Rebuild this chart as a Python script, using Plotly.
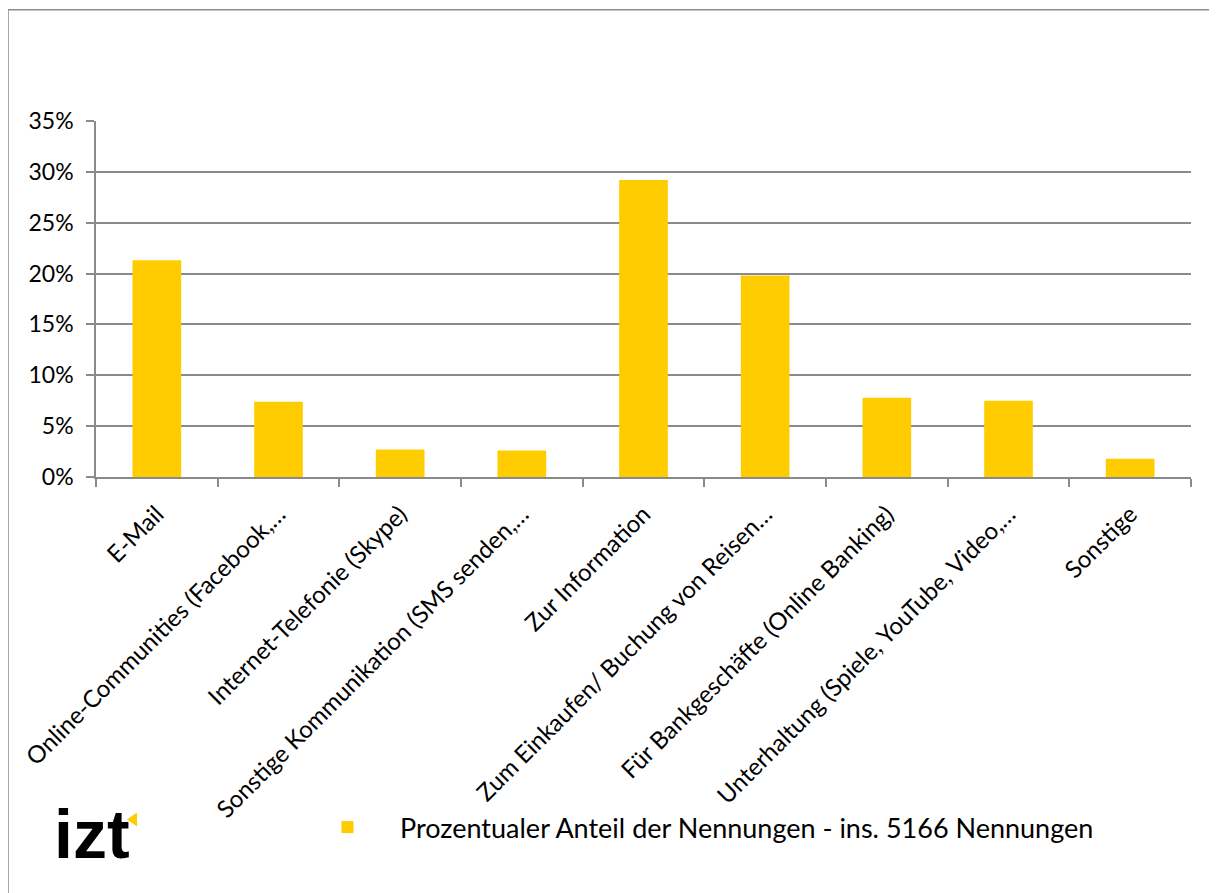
import plotly.graph_objects as go

categories = [
    "E-Mail",
    "Online-Communities (Facebook,…",
    "Internet-Telefonie (Skype)",
    "Sonstige Kommunikation (SMS senden,…",
    "Zur Information",
    "Zum Einkaufen/ Buchung von Reisen…",
    "Für Bankgeschäfte (Online Banking)",
    "Unterhaltung (Spiele, YouTube, Video,…",
    "Sonstige",
]
values = [0.213, 0.074, 0.027, 0.026, 0.292, 0.198, 0.078, 0.075, 0.018]
series_name = "Prozentualer Anteil der Nennungen - ins. 5166 Nennungen"
y_ticks = [0, 0.05, 0.10, 0.15, 0.20, 0.25, 0.30, 0.35]

W, H = 1217, 893
OFF = 8  # page body margin in the browser
L, R, T, B = 96, 1191, 120.5, 477.5   # plot area in screen pixels
FONT = "Lato"
GRID = "#8a8a8a"

def px_x(px):
    return (px - L) / (R - L)

def px_y(py):
    return (B - py) / (B - T)

fig = go.Figure()
fig.add_trace(go.Bar(
    x=categories, y=values, name=series_name,
    marker=dict(color="#FFCC00", line=dict(width=0)),
    showlegend=True,
))

fig.update_layout(
    width=W, height=H,
    margin=dict(l=L - OFF, r=(W + OFF) - R, t=T - OFF, b=(H + OFF) - B,
                autoexpand=False),
    paper_bgcolor="white", plot_bgcolor="white",
    font=dict(family=FONT, size=24, color="black"),
    bargap=0.6,
    showlegend=True,
    legend=dict(
        x=px_x(295), y=px_y(829), xanchor="left", yanchor="middle",
        font=dict(family=FONT, size=27, color="black"),
        itemwidth=95, bgcolor="rgba(0,0,0,0)",
    ),
    xaxis=dict(
        type="category", tickangle=-45, automargin=False,
        showline=True, linecolor=GRID, linewidth=1.5,
        ticks="outside", ticklen=8, tickcolor=GRID, tickwidth=1.5,
        tickson="boundaries", showgrid=False, ticklabelstandoff=12,
        tickfont=dict(family=FONT, size=24, color="black"),
    ),
    yaxis=dict(
        range=[0, 0.35], tickvals=y_ticks, tickformat=".0%",
        automargin=False,
        showline=True, linecolor=GRID, linewidth=1.5,
        ticks="outside", ticklen=8, tickcolor=GRID, tickwidth=1.5,
        showgrid=True, gridcolor=GRID, gridwidth=1.5,
        zeroline=False, ticklabelstandoff=8,
        tickfont=dict(family=FONT, size=23, color="black"),
    ),
)

# outer chart frame (open at right/bottom as in the reference crop)
fig.add_shape(type="rect", xref="paper", yref="paper",
              x0=px_x(8), x1=px_x(1260), y0=px_y(9), y1=px_y(960),
              line=dict(color="#8c8c8c", width=1.5), fillcolor="rgba(0,0,0,0)",
              layer="below")

# izt logo
fig.add_annotation(xref="paper", yref="paper", x=px_x(52), y=px_y(836),
                   xanchor="left", yanchor="middle", showarrow=False,
                   text="<b>izt</b>",
                   font=dict(family="Liberation Sans", size=68, color="black"))
fig.add_shape(type="path", xref="paper", yref="paper",
              path=f"M {px_x(137)} {px_y(814)} L {px_x(127)} {px_y(821)} L {px_x(137)} {px_y(828)} Z",
              line=dict(width=0), fillcolor="#FFCC00")

fig.write_html("out.html")
